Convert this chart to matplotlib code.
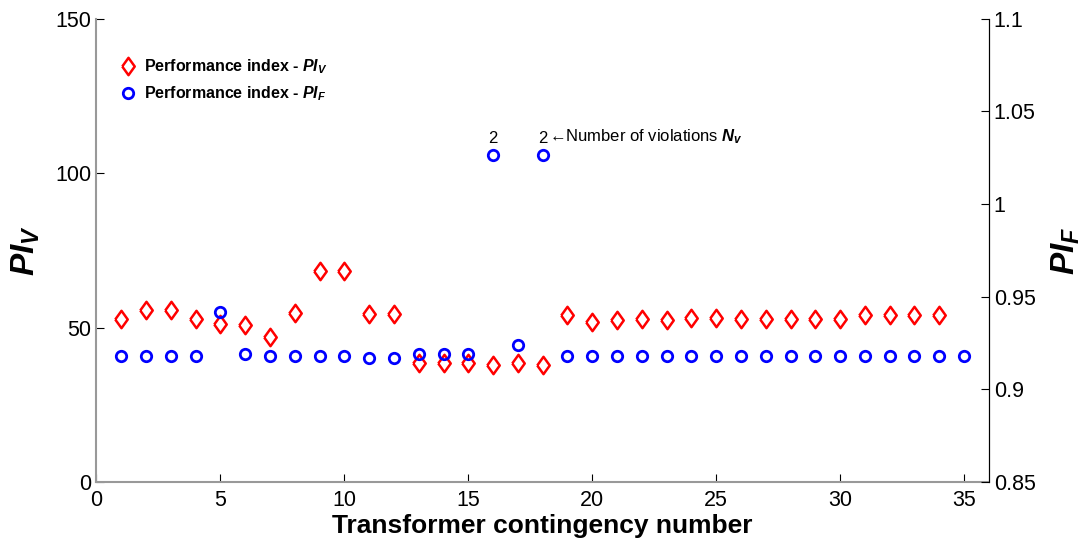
import numpy as np
import matplotlib.pyplot as plt

plt.rcParams['font.family'] = ['Liberation Sans', 'DejaVu Sans']
plt.rcParams['mathtext.fontset'] = 'custom'
plt.rcParams['mathtext.rm'] = 'Liberation Sans'
plt.rcParams['mathtext.it'] = 'Liberation Sans:italic:bold'
plt.rcParams['mathtext.bf'] = 'Liberation Sans:bold'

# transformer contingencies
n_piv = np.arange(1, 35)
n_pif = np.arange(1, 36)

pi_v = [52.7, 55.7, 55.7, 52.7, 51.2, 50.9, 47.1, 54.6, 68.4, 68.4,
        54.4, 54.4, 38.6, 38.6, 38.6, 37.9, 38.4, 37.9, 54.1, 51.7,
        52.5, 52.8, 52.5, 53.0, 53.0, 52.7, 52.8, 52.7, 52.7, 52.8,
        54.1, 54.1, 54.1, 54.1]

pi_f = [0.918, 0.918, 0.918, 0.918, 0.942, 0.919, 0.918, 0.918, 0.918, 0.918,
        0.917, 0.917, 0.919, 0.919, 0.919, 1.0266, 0.924, 1.0266, 0.918, 0.918,
        0.918, 0.918, 0.918, 0.918, 0.918, 0.918, 0.918, 0.918, 0.918, 0.918,
        0.918, 0.918, 0.918, 0.918, 0.918]

# number of violations shown above the outliers
viol_n = [16, 18]
viol_count = [2, 2]

# matlab style diamond (wider than 'd')
diamond = [(-0.72, 0), (0, 1), (0.72, 0), (0, -1), (-0.72, 0)]

fig = plt.figure(figsize=(10.89, 5.54), dpi=100)
ax = fig.add_axes([0.0886, 0.130, 0.8194, 0.836])
ax2 = ax.twinx()

l1, = ax.plot(n_piv, pi_v, ls='none', marker=diamond, color='red', mfc='none', mew=1.8, ms=12.5,
              label=r'Performance index - $PI_V$')
l2, = ax2.plot(n_pif, pi_f, 'o', color='blue', mfc='none', mew=2, ms=7.5,
               label=r'Performance index - $PI_F$')

ax.set_xlim(0, 36)
ax.set_ylim(0, 150)
ax2.set_ylim(0.85, 1.1)
ax.set_xticks(range(0, 36, 5))
ax.set_yticks([0, 50, 100, 150])
ax2.set_yticks([0.85, 0.9, 0.95, 1.0, 1.05, 1.1])
ax2.set_yticklabels(['0.85', '0.9', '0.95', '1', '1.05', '1.1'])

for a in (ax, ax2):
    a.tick_params(direction='in', labelsize=15.5, length=6, width=0.8)
    a.spines['top'].set_visible(False)
ax.tick_params(axis='x', pad=6)
ax.spines['left'].set_color('#999999')
ax.spines['bottom'].set_color('#999999')
ax.spines['left'].set_linewidth(1.5)
ax.spines['bottom'].set_linewidth(1.5)
ax2.spines['left'].set_visible(False)
ax2.spines['bottom'].set_visible(False)
ax2.spines['right'].set_color('black')

ax.set_xlabel('Transformer contingency number', fontsize=19, fontweight='bold', labelpad=2)
ax.set_ylabel(r'$PI_V$', fontsize=24, labelpad=10)
ax2.set_ylabel(r'$PI_F$', fontsize=24, labelpad=10)

for n, c in zip(viol_n, viol_count):
    ax2.annotate(str(c), (n, pi_f[n - 1]), xytext=(0, 6), textcoords='offset points',
                 ha='center', va='bottom', fontsize=12)
ax2.annotate('\u2190Number of violations $N_v$', (viol_n[-1], pi_f[viol_n[-1] - 1]),
             xytext=(4.5, 6), textcoords='offset points', ha='left', va='bottom', fontsize=12)

ax.legend(handles=[l1, l2], loc='upper left', bbox_to_anchor=(0.008, 0.948), frameon=False,
          prop={'weight': 'bold', 'size': 11.5}, handlelength=1.2, handletextpad=0.4,
          labelspacing=0.55)

fig.savefig('out.png', dpi=100)
